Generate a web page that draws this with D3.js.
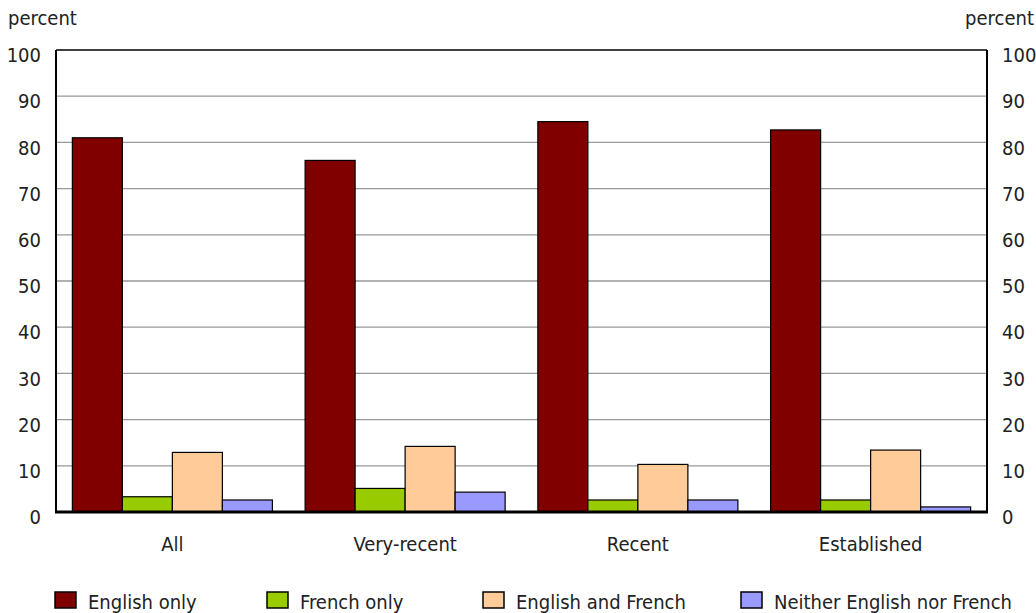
<!DOCTYPE html>
<html>
<head>
<meta charset="utf-8">
<script src="https://cdn.jsdelivr.net/npm/d3@7"></script>
<style>
  html, body { margin: 0; padding: 0; background: #fff; }
  svg { display: block; }
  text { font-family: "Liberation Sans Narrow", "DejaVu Sans Condensed", "Liberation Sans", sans-serif; fill: #222; }
</style>
</head>
<body>
<svg id="chart" width="1036" height="613"></svg>
<script>
// Immigrant groups along the x axis
const categories = ["All", "Very-recent", "Recent", "Established"];
// Knowledge of official languages, percent of each group
const seriesNames = ["English only", "French only", "English and French", "Neither English nor French"];
const englishOnly = [81.0, 76.1, 84.5, 82.7];
const frenchOnly = [3.3, 5.1, 2.6, 2.6];
const englishAndFrench = [12.9, 14.2, 10.3, 13.4];
const neither = [2.6, 4.3, 2.6, 1.1];
const seriesColors = ["#800000", "#99cc00", "#ffcc99", "#9999ff"];
const yTicks = [0, 10, 20, 30, 40, 50, 60, 70, 80, 90, 100];

const seriesValues = [englishOnly, frenchOnly, englishAndFrench, neither];

const svg = d3.select("#chart");
const plotLeft = 56, plotRight = 987, plotTop = 50, plotBottom = 512;

const x0 = d3.scaleBand().domain(categories).range([plotLeft, plotRight]).paddingInner(0.1406).paddingOuter(0.0703);
const x1 = d3.scaleBand().domain(seriesNames).range([0, x0.bandwidth()]);
const y = d3.scaleLinear().domain([0, 100]).range([plotBottom, plotTop]);

// Horizontal gridlines
svg.append("g").selectAll("line")
  .data(yTicks.filter(t => t > 0 && t < 100))
  .join("line")
  .attr("x1", plotLeft).attr("x2", plotRight)
  .attr("y1", d => y(d)).attr("y2", d => y(d))
  .attr("stroke", "#999").attr("stroke-width", 1.3);

// Left and right tick labels
const leftAxis = d3.axisLeft(y).tickValues(yTicks).tickSize(0).tickPadding(15);
const gL = svg.append("g").attr("transform", `translate(${plotLeft},0)`).call(leftAxis);
const rightAxis = d3.axisRight(y).tickValues(yTicks).tickSize(0).tickPadding(15);
const gR = svg.append("g").attr("transform", `translate(${plotRight},0)`).call(rightAxis);
[gL, gR].forEach(g => {
  g.select(".domain").remove();
  g.selectAll("text").attr("font-size", 20).attr("dy", "0.58em")
    .style("font-family", '"Liberation Sans Narrow", "DejaVu Sans Condensed", sans-serif')
    .attr("fill", "#222");
});

// Bars
const groups = svg.append("g").selectAll("g")
  .data(categories)
  .join("g")
  .attr("transform", d => `translate(${x0(d)},0)`);

groups.selectAll("rect")
  .data((c, i) => seriesNames.map((s, k) => ({ s, k, v: seriesValues[k][i] })))
  .join("rect")
  .attr("x", d => x1(d.s))
  .attr("y", d => y(d.v))
  .attr("width", x1.bandwidth())
  .attr("height", d => y(0) - y(d.v))
  .attr("fill", d => seriesColors[d.k])
  .attr("stroke", "#000")
  .attr("stroke-width", 1.2);

// Frame
svg.append("line").attr("x1", plotLeft).attr("x2", plotRight).attr("y1", plotTop).attr("y2", plotTop)
  .attr("stroke", "#000").attr("stroke-width", 1.5);
svg.append("line").attr("x1", plotLeft).attr("x2", plotLeft).attr("y1", plotTop).attr("y2", plotBottom)
  .attr("stroke", "#000").attr("stroke-width", 2);
svg.append("line").attr("x1", plotRight).attr("x2", plotRight).attr("y1", plotTop).attr("y2", plotBottom)
  .attr("stroke", "#000").attr("stroke-width", 2);
svg.append("line").attr("x1", plotLeft - 1).attr("x2", plotRight + 1).attr("y1", plotBottom).attr("y2", plotBottom)
  .attr("stroke", "#000").attr("stroke-width", 3);

// Category labels
svg.append("g").selectAll("text")
  .data(categories)
  .join("text")
  .attr("x", d => x0(d) + x0.bandwidth() / 2)
  .attr("y", 551)
  .attr("text-anchor", "middle")
  .attr("font-size", 20)
  .text(d => d);

// Axis titles
svg.append("text").attr("x", 8).attr("y", 25).attr("font-size", 20).text("percent");
svg.append("text").attr("x", 1034).attr("y", 25).attr("font-size", 20).attr("text-anchor", "end").text("percent");

// Legend
const legendX = [55, 267, 483, 741];
const legend = svg.append("g").selectAll("g")
  .data(seriesNames)
  .join("g")
  .attr("transform", (d, i) => `translate(${legendX[i]},592)`);
legend.append("rect")
  .attr("width", 21).attr("height", 16)
  .attr("fill", (d, i) => seriesColors[i])
  .attr("stroke", "#000").attr("stroke-width", 1.5);
legend.append("text")
  .attr("x", 33).attr("y", 17)
  .attr("font-size", 20)
  .text(d => d);
</script>
</body>
</html>
